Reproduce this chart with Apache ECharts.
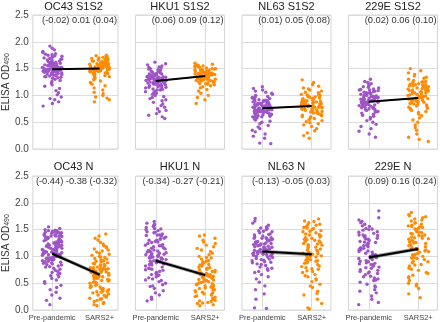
<!DOCTYPE html>
<html>
<head>
<meta charset="utf-8">
<script src="https://cdn.jsdelivr.net/npm/echarts@6/dist/echarts.min.js"></script>
<style>
  html, body { margin: 0; padding: 0; background: #fff; }
  #main { width: 440px; height: 322px; }
</style>
</head>
<body>
<div id="main"></div>
<script>
// panel titles, row by row
var titles = ['OC43 S1S2', 'HKU1 S1S2', 'NL63 S1S2', '229E S1S2', 'OC43 N', 'HKU1 N', 'NL63 N', '229E N']
// slope estimate with its interval, printed at the top of each panel
var ciText = ['(-0.02) 0.01 (0.04)', '(0.06) 0.09 (0.12)', '(0.01) 0.05 (0.08)', '(0.02) 0.06 (0.10)',
  '(-0.44) -0.38 (-0.32)', '(-0.34) -0.27 (-0.21)', '(-0.13) -0.05 (0.03)', '(0.09) 0.16 (0.24)']
var groups = ['Pre-pandemic', 'SARS2+']

// ELISA OD490 x 100, one list per panel
var prePandemic = [
  [80,85,88,92,94,97,101,105,109,113,117,120,123,126,128,130,132,133,134,135,136,137,138,139,140,140,141,142,142,143,144,144,145,145,146,146,147,147,148,148,149,149,150,150,151,151,152,152,153,153,154,154,155,155,156,156,157,158,158,159,160,160,161,162,163,164,165,166,167,168,169,170,171,172,173,174,175,176,177,178,180,182,185,188,192,
   140,145,150,155,160,143,148,153,158,138,163,147,152,157,135],
  [57,60,63,66,70,72,75,78,81,84,87,90,92,94,96,98,100,102,104,105,107,108,110,111,112,113,114,115,116,117,118,119,120,121,121,122,123,123,124,125,125,126,126,127,127,128,128,129,129,130,130,131,131,132,132,133,133,134,134,135,136,136,137,138,138,139,140,141,142,143,144,145,146,147,148,149,150,151,152,153,155,157,159,162,
   115,120,125,130,135,140,118,123,128,133,138,110,145,127,132],
  [10,11,20,24,28,32,35,38,41,44,47,50,52,54,56,58,59,60,61,62,63,64,65,66,67,68,68,69,70,70,71,72,72,73,73,74,74,75,75,76,76,77,77,78,78,79,79,80,80,81,81,82,82,83,84,84,85,86,86,87,88,89,90,91,92,93,94,95,96,97,98,100,102,104,106,108,110,113,116,
   60,65,70,75,80,85,90,63,68,73,78,83,88,72,77],
  [22,28,33,38,42,46,50,53,56,59,61,63,65,67,69,70,72,73,74,75,76,77,78,79,80,81,82,83,84,85,86,86,87,88,88,89,90,90,91,92,92,93,94,94,95,96,96,97,98,98,99,100,101,102,103,104,105,106,107,108,109,110,111,112,114,115,116,118,120,122,124,126,130,
   70,75,80,85,90,95,100,105,110,83,88,93,98,103,78],
  [10,18,22,28,33,38,42,46,50,53,56,59,62,64,66,68,70,72,74,76,78,80,82,84,85,86,88,89,90,92,93,94,95,96,97,98,99,100,101,102,103,104,105,106,107,108,109,110,111,112,113,114,115,116,117,118,119,120,121,122,123,124,125,126,127,128,129,130,131,132,133,134,135,136,137,138,139,140,141,142,143,144,145,146,147,148,149,150,152,155,
   81,87,91,95,99,103,107,111,115,119,123,127,131,135,139,143,147,97,105,113,121,129,137,145,108,118,128,138,148,125],
  [17,20,24,28,32,36,40,44,47,50,53,56,58,60,62,64,66,68,70,72,74,76,78,80,82,84,86,88,90,92,93,94,95,96,97,98,99,100,101,102,103,104,105,106,107,108,109,110,111,112,114,116,118,120,122,124,126,128,130,132,134,136,138,140,142,144,146,148,150,152,154,156,158,160,162,165,
   45,55,65,75,85,91,97,103,109,115,121,127,133,139,145,151,157,100,110,120,130,140,88,78,68],
  [3,4,20,30,38,45,52,58,62,66,70,74,77,80,83,85,88,90,92,94,96,98,100,101,102,103,104,105,106,107,108,109,110,111,112,113,114,115,116,117,118,119,120,121,122,123,124,125,126,127,128,129,130,131,132,133,134,135,136,138,140,142,144,146,148,150,152,155,158,162,166,171,
   72,78,86,93,99,105,111,117,123,129,135,141,147,153,104,114,124,134,95,89],
  [10,14,20,26,32,38,43,48,52,56,60,63,66,69,72,75,78,80,82,84,86,88,90,92,94,96,98,100,102,104,106,108,110,112,114,116,118,120,122,124,126,128,130,132,134,136,138,140,143,146,149,152,156,160,165,172,185,
   35,45,55,62,68,74,79,85,91,97,103,109,115,121,127,133,139,145,151,157,163,99,113,125,87,71,58,150,168,140]
]
var sars2 = [
  [88,92,95,97,100,103,106,110,114,118,121,124,127,129,131,133,135,136,137,138,139,140,141,142,142,143,144,144,145,146,146,147,147,148,148,149,149,150,150,151,151,152,152,153,153,154,154,155,155,156,156,157,157,158,159,159,160,160,161,162,162,163,164,164,165,166,167,167,168,169,170,171,172,173,174,175,
   145,150,155,160,165,148,153,158,163,143,152,157,162,147,170],
  [85,92,96,100,104,108,111,114,116,118,120,121,122,123,124,125,126,127,128,128,129,130,130,131,131,132,132,133,133,134,134,135,135,136,136,137,137,138,138,139,139,140,140,141,141,142,142,143,143,144,145,145,146,147,148,148,149,150,151,152,153,154,155,156,157,158,160,
   125,130,135,140,145,150,128,133,138,143,148,122,155,137,142],
  [20,25,30,34,38,42,45,47,49,51,53,55,57,59,60,62,63,64,66,67,68,69,70,71,72,73,74,75,76,77,78,78,79,80,80,81,82,82,83,84,85,85,86,87,88,89,90,91,92,93,94,95,96,97,98,99,100,101,102,104,106,108,110,112,114,117,120,124,129,
   60,65,70,75,80,85,90,95,100,68,73,78,83,88,105],
  [14,18,22,28,35,40,45,50,54,58,62,65,68,70,72,74,76,78,80,82,83,84,86,87,88,89,90,91,92,93,94,95,96,97,98,99,100,101,102,103,104,105,106,107,108,109,110,111,112,113,114,115,116,118,119,120,121,122,124,125,126,128,130,132,134,136,139,142,146,150,
   75,80,85,90,95,100,105,110,115,120,125,88,98,108,118],
  [8,10,12,14,16,18,20,22,24,26,28,30,32,34,36,38,40,42,44,46,48,50,52,54,55,57,58,60,61,62,63,64,65,66,67,68,69,70,71,72,73,74,75,76,77,78,79,80,82,84,86,88,90,92,94,96,98,100,102,104,106,108,110,112,114,116,118,120,123,126,130,134,138,142,
   21,27,33,39,45,51,56,59,63,67,71,75,79,83,87,91,95,99,43,53,61,69,77,85,35],
  [8,10,12,14,16,18,20,22,24,26,28,30,32,34,36,38,40,42,44,45,46,48,50,52,53,54,55,56,58,60,62,63,64,65,66,67,68,70,72,74,76,78,80,82,84,86,88,90,92,95,98,100,103,106,109,112,115,118,121,124,127,130,134,138,140,
   13,17,21,25,29,33,37,41,47,51,57,61,66,71,75,79,85,91,97,43,49,59,69],
  [2,4,12,20,28,35,42,48,53,58,62,66,70,73,76,79,82,85,88,90,92,94,96,98,100,102,104,106,108,110,112,114,116,118,120,122,124,126,128,130,132,134,136,138,140,142,144,146,148,150,152,154,156,158,160,163,166,170,
   31,45,56,64,72,81,87,93,99,105,111,117,123,129,135,141,147,153,159,165,121,131,101,91,77],
  [23,30,40,48,55,60,65,70,74,78,82,85,88,91,94,96,98,100,102,104,106,108,110,112,114,116,118,120,122,124,126,128,130,132,134,136,138,140,142,144,146,148,150,152,154,156,158,160,163,166,170,174,178,182,
   62,68,76,84,90,97,103,109,115,121,127,133,139,145,151,157,162,168,172,176,135,125,143,155,113,50,45]
]

// fitted line ends (at Pre-pandemic, at SARS2+) and half width of its band
var fitPre = [1.49, 1.27, 0.76, 0.88, 1.05, 0.92, 1.09, 0.98]
var fitSars = [1.50, 1.36, 0.80, 0.95, 0.66, 0.65, 1.04, 1.14]
var fitBand = [0.012, 0.012, 0.012, 0.012, 0.035, 0.035, 0.035, 0.035]

var font = 'Liberation Sans, Arial, sans-serif'
var purple = '#9f55c8'
var orange = '#ff8b05'
var colLeft = [29, 135.5, 242, 348.5]
var rowTop = [15, 176]
var rowH = [134, 136.5]
var plotW = 89

// sideways spread of the dots inside a strip (layout only, integer hash)
function jitter(k, s) {
  var h = ((k + 1) * 2654435761 + s * 40503) >>> 0
  h ^= h >>> 15
  h = Math.imul(h, 2246822519) >>> 0
  h ^= h >>> 13
  h = Math.imul(h, 3266489917) >>> 0
  h ^= h >>> 16
  return ((h >>> 0) / 4294967296 - 0.5) * 0.42
}

var grids = [], xAxes = [], yAxes = [], series = [], graphics = []

titles.forEach(function (t, i) {
  var r = Math.floor(i / 4)
  var c = i % 4
  grids.push({
    left: colLeft[c], top: rowTop[r], width: plotW, height: rowH[r],
    show: true, borderColor: '#d6d6d6', borderWidth: 1
  })
  xAxes.push({
    gridIndex: i, type: 'value', min: -0.41, max: 1.39,
    axisLine: { show: false },
    axisTick: { show: false, customValues: [0, 1] },
    axisLabel: {
      show: r === 1, customValues: [0, 1], margin: 4,
      fontSize: 7.5, color: '#444', fontFamily: font,
      formatter: function (v) { return groups[Math.round(v)] }
    },
    splitLine: { show: true, lineStyle: { color: '#dcdcdc', width: 1 } }
  })
  yAxes.push({
    gridIndex: i, type: 'value', min: 0, max: 2.5, interval: 0.5,
    axisLine: { show: false },
    axisTick: { show: false },
    axisLabel: {
      show: c === 0, margin: 4, fontSize: 10, color: '#444', fontFamily: font,
      formatter: function (v) { return v.toFixed(1) }
    },
    splitLine: { lineStyle: { color: '#dcdcdc', width: 1 } },
    name: c === 0 ? 'ELISA OD{s|490}' : '',
    nameLocation: 'middle', nameRotate: 90, nameGap: 18,
    nameTextStyle: {
      fontSize: 10, color: '#333', fontFamily: font,
      rich: { s: { fontSize: 7, color: '#333', fontFamily: font, verticalAlign: 'bottom', padding: [3, 0, 0, 0] } }
    }
  })
  series.push({
    type: 'scatter', xAxisIndex: i, yAxisIndex: i, symbolSize: 3.4,
    itemStyle: { color: purple, opacity: 1 }, silent: true,
    data: prePandemic[i].map(function (v, k) { return [jitter(k, i * 2), v / 100] })
  })
  series.push({
    type: 'scatter', xAxisIndex: i, yAxisIndex: i, symbolSize: 3.4,
    itemStyle: { color: orange, opacity: 1 }, silent: true,
    data: sars2[i].map(function (v, k) { return [1 + jitter(k, i * 2 + 1), v / 100] })
  })
  series.push({
    type: 'custom', xAxisIndex: i, yAxisIndex: i, silent: true, z: 5,
    data: [[fitPre[i] - fitBand[i], fitPre[i] + fitBand[i], fitSars[i] - fitBand[i], fitSars[i] + fitBand[i]]],
    renderItem: function (params, api) {
      var pts = [
        api.coord([0, api.value(0)]), api.coord([1, api.value(2)]),
        api.coord([1, api.value(3)]), api.coord([0, api.value(1)])
      ]
      return { type: 'polygon', shape: { points: pts }, style: { fill: 'rgba(40,40,40,0.45)' } }
    }
  })
  series.push({
    type: 'line', xAxisIndex: i, yAxisIndex: i, symbol: 'none', silent: true, z: 6,
    lineStyle: { color: '#000', width: 2 },
    data: [[0, fitPre[i]], [1, fitSars[i]]]
  })
  graphics.push({
    type: 'text', x: colLeft[c] + plotW / 2, y: r === 0 ? 7 : 167,
    style: { text: t, font: '11px ' + font, fill: '#222', textAlign: 'center', textVerticalAlign: 'middle' }
  })
  graphics.push({
    type: 'text', x: colLeft[c] + plotW - 1, y: rowTop[r] + 5, z: 10,
    style: { text: ciText[i], font: '9.3px ' + font, fill: '#333', textAlign: 'right', textVerticalAlign: 'middle' }
  })
})

var myChart = echarts.init(document.getElementById('main'))
myChart.setOption({
  animation: false,
  backgroundColor: '#fff',
  grid: grids,
  xAxis: xAxes,
  yAxis: yAxes,
  series: series,
  graphic: graphics
})
</script>
</body>
</html>
